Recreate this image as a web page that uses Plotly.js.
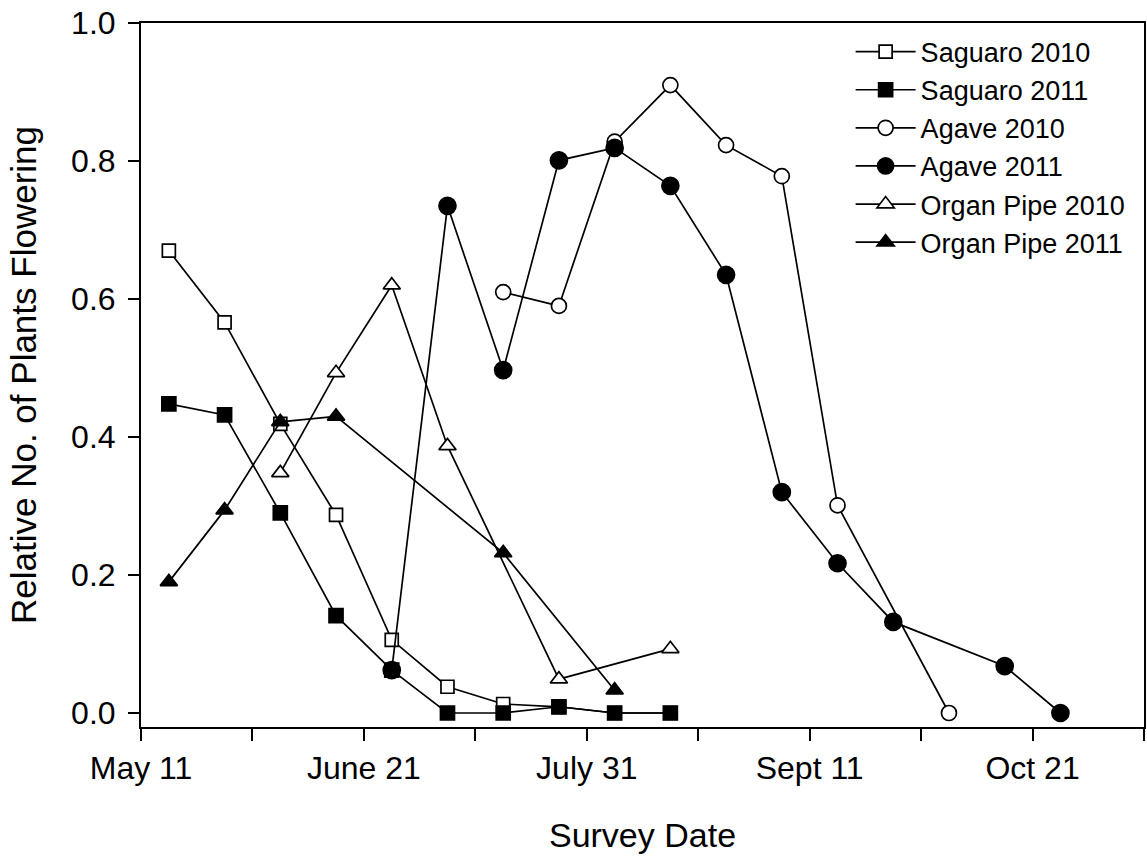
<!DOCTYPE html>
<html>
<head>
<meta charset="utf-8">
<script src="https://cdn.plot.ly/plotly-3.0.1.min.js"></script>
<style>html,body{margin:0;padding:0;background:#fff;}#chart{width:1147px;height:856px;}</style>
</head>
<body>
<div id="chart"></div>
<script>
// Days after May 11 for each survey, and relative number of plants flowering
const saguaro2010X = [5, 15, 25, 35, 45, 55, 65, 75, 85, 95];
const saguaro2010Y = [0.670, 0.566, 0.419, 0.287, 0.106, 0.038, 0.013, 0.009, 0.0, 0.0];

const saguaro2011X = [5, 15, 25, 35, 45, 55, 65, 75, 85, 95];
const saguaro2011Y = [0.448, 0.432, 0.290, 0.141, 0.062, 0.0, 0.0, 0.009, 0.0, 0.0];

const agave2010X = [65, 75, 85, 95, 105, 115, 125, 145];
const agave2010Y = [0.610, 0.590, 0.828, 0.910, 0.823, 0.778, 0.301, 0.0];

const agave2011X = [45, 55, 65, 75, 85, 95, 105, 115, 125, 135, 155, 165];
const agave2011Y = [0.062, 0.735, 0.497, 0.801, 0.819, 0.764, 0.635, 0.320, 0.217, 0.132, 0.068, 0.0];

const organ2010X = [25, 35, 45, 55, 75, 95];
const organ2010Y = [0.348, 0.493, 0.620, 0.387, 0.049, 0.093];

const organ2011X = [5, 15, 25, 35, 65, 85];
const organ2011Y = [0.190, 0.294, 0.422, 0.430, 0.232, 0.033];

const xTickVals = [0, 20, 40, 60, 80, 100, 120, 140, 160, 180];
const xTickText = ['May 11', '', 'June 21', '', 'July 31', '', 'Sept 11', '', 'Oct 21', ''];
const yTickVals = [0, 0.2, 0.4, 0.6, 0.8, 1.0];

const FONT = 'Liberation Sans, Arial, sans-serif';

function tr(name, x, y, symbol, filled, size) {
  return {
    type: 'scatter', mode: 'lines+markers', name: name, x: x, y: y,
    line: {color: '#000', width: 1.7},
    marker: {symbol: symbol, size: size, color: filled ? '#000' : '#fff',
             line: {color: '#000', width: 1.7}},
    cliponaxis: false
  };
}

const data = [
  tr('Saguaro 2010', saguaro2010X, saguaro2010Y, 'square', false, 13),
  tr('Saguaro 2011', saguaro2011X, saguaro2011Y, 'square', true, 14),
  tr('Agave 2010', agave2010X, agave2010Y, 'circle', false, 15),
  tr('Agave 2011', agave2011X, agave2011Y, 'circle', true, 17),
  tr('Organ Pipe 2010', organ2010X, organ2010Y, 'triangle-up', false, 15),
  tr('Organ Pipe 2011', organ2011X, organ2011Y, 'triangle-up', true, 15)
];

const layout = {
  width: 1147, height: 856,
  margin: {l: 141, r: 3, t: 23, b: 129, pad: 0},
  paper_bgcolor: '#fff', plot_bgcolor: '#fff',
  font: {family: FONT, color: '#000', size: 32},
  showlegend: true,
  legend: {
    x: 0.7075, y: 0.9935, xanchor: 'left', yanchor: 'top',
    bgcolor: 'rgba(0,0,0,0)', borderwidth: 0,
    font: {family: FONT, size: 27, color: '#000'},
    itemwidth: 60, tracegroupgap: 0
  },
  xaxis: {
    range: [0, 180], tickmode: 'array', tickvals: xTickVals, ticktext: xTickText,
    showgrid: false, zeroline: false, showline: true, linecolor: '#000', linewidth: 2,
    mirror: true, ticks: 'outside', ticklen: 12, tickwidth: 2, tickcolor: '#000',
    tickfont: {family: FONT, size: 32, color: '#000'},
    title: {text: 'Survey Date', font: {family: FONT, size: 34, color: '#000'}, standoff: 38}
  },
  yaxis: {
    range: [-0.0203, 1.0], tickmode: 'array', tickvals: yTickVals, tickformat: '.1f',
    showgrid: false, zeroline: false, showline: true, linecolor: '#000', linewidth: 2,
    mirror: true, ticks: 'outside', ticklen: 11, tickwidth: 2, tickcolor: '#000',
    ticklabelstandoff: 6,
    tickfont: {family: FONT, size: 32, color: '#000'},
    title: {text: 'Relative No. of Plants Flowering', font: {family: FONT, size: 35, color: '#000'}, standoff: 24}
  }
};

Plotly.newPlot('chart', data, layout, {staticPlot: true, displayModeBar: false});
</script>
</body>
</html>
